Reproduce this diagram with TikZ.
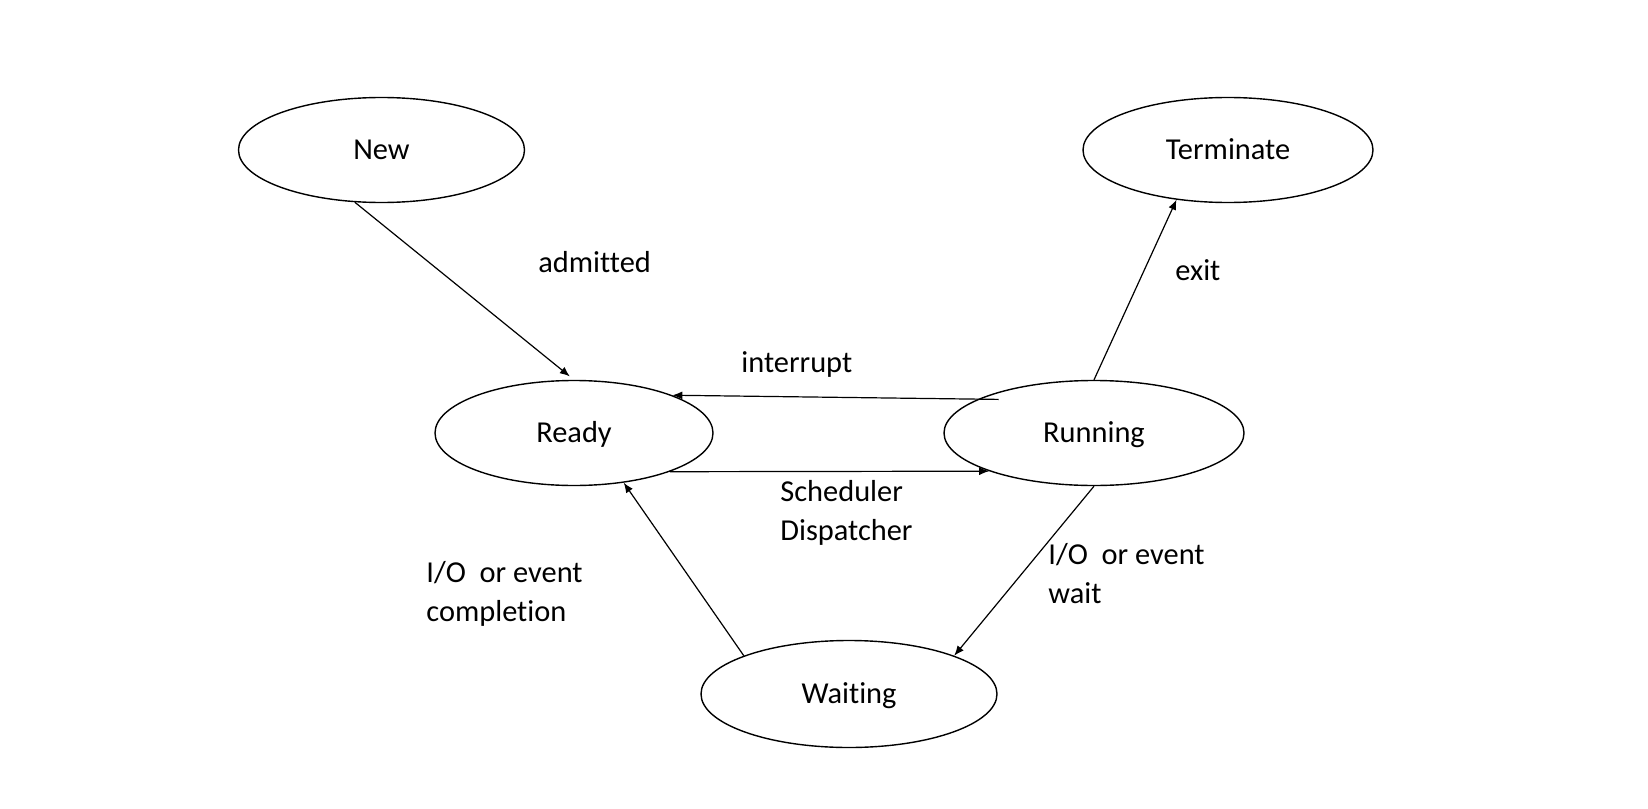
\documentclass[tikz,border=0pt]{standalone}
\usepackage{fontspec}
\setmainfont{Carlito}[Ligatures=NoCommon]
\usetikzlibrary{positioning, arrows.meta, shapes.geometric, calc}

\begin{document}
\begin{tikzpicture}[x=0.5pt, y=-0.5pt, >={Latex[length=5pt,width=4pt]},
    every node/.style={font=\fontsize{15.2}{19.5}\selectfont},
    proc/.style={ellipse, draw, line width=0.7pt, inner sep=0pt, minimum height=52.5pt,
        text height=9.7pt, text depth=0pt},
    lbl/.style={inner sep=0pt, align=left}]
    \useasboundingbox (0,0) rectangle (1648,808);
    \node[proc, minimum width=143pt] (new) at (381.5,150) {New};
    \node[proc, minimum width=145pt] (term) at (1228,150) {Terminate};
    \node[proc, minimum width=139pt] (rdy) at (574,433) {Ready};
    \node[proc, minimum width=150pt] (run) at (1094,433) {Running};
    \node[proc, minimum width=148pt, minimum height=53.5pt] (wtg) at (849,694) {Waiting};
    \coordinate (intr) at ($(run.center)+(-95.5,-33.6)$);
    \path[->, line width=0.6pt]
        (new.243) edge [shorten >=2.7pt] (rdy.north)
        (intr) edge (rdy.21)
        (rdy.338) edge (run.200)
        (run.south) edge (wtg.20)
        (wtg.160) edge (rdy.315)
        (run.north) edge (term.224);
    % labels
    \node[lbl, anchor=base west] (admit) at (538,272) {admitted};
    \node[lbl, anchor=base west] (intrl) at (741,372) {interrupt};
    \node[lbl, anchor=west] (sched) at (780,513) {Scheduler\\Dispatcher};
    \node[lbl, anchor=west] (iocomp) at (426,594) {I/O~~or event\\completion};
    \node[lbl, anchor=west] (iowait) at (1048,574) {I/O~~or event\\wait};
    \node[lbl, anchor=base west] (exitl) at (1175,280.5) {exit};
\end{tikzpicture}
\end{document}
